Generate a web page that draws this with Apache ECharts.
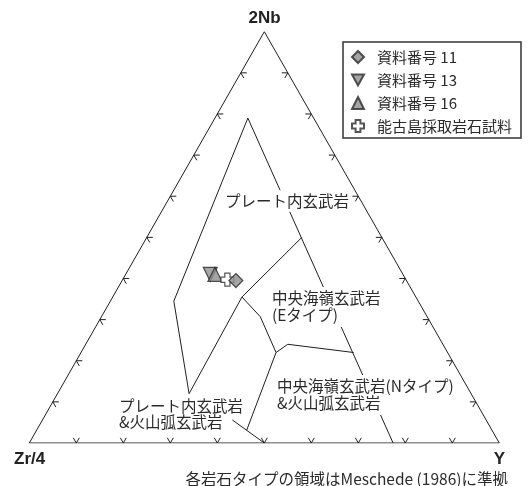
<!DOCTYPE html>
<html>
<head>
<meta charset="utf-8">
<script src="https://cdn.jsdelivr.net/npm/echarts@6/dist/echarts.min.js"></script>
<style>
html, body { margin: 0; padding: 0; background: #fff; }
#chart { width: 528px; height: 486px; }
</style>
</head>
<body>
<div id="chart"></div>
<script>
// all points are ternary values [Zr/4, 2Nb, Y] in %
var sample11 = [[36.3, 39.5, 24.2]];
var sample13 = [[41, 41, 18]];
var sample16 = [[40, 41, 19]];
var nokoSamples = [[38, 39.7, 22.3]];

var frameLine = [[100, 0, 0], [0, 100, 0], [0, 0, 100], [100, 0, 0]];
// field boundaries after Meschede (1986)
var fieldLines = [
    [[60, 12, 28], [52, 34.5, 13.5], [14, 79, 7]],
    [[14, 79, 7], [22.6, 0, 77.4]],
    [[17, 50, 33], [37, 35.5, 27.5], [60, 12, 28]],
    [[37, 35.5, 27.5], [35.5, 30.7, 33.8], [36.5, 22, 41.5], [33, 24, 43], [20, 22, 58]],
    [[36.5, 22, 41.5], [52.2, 3.1, 44.7]],
    [[54, 5.6, 40.4], [50, 0, 50]]
];
var tickValues = [10, 20, 30, 40, 50, 60, 70, 80, 90];

function toXY(t) {
    var s = t[0] + t[1] + t[2];
    return [(t[2] + t[1] / 2) / s * 100, t[1] / s * 100];
}

var tickData = [];
tickValues.forEach(function (v) {
    tickData.push(toXY([100 - v, 0, v]).concat(0));   // base
    tickData.push(toXY([100 - v, v, 0]).concat(1));   // left edge
    tickData.push(toXY([0, v, 100 - v]).concat(2));   // right edge
});
var armDirs = [
    [[-0.5, -0.866], [0.5, -0.866]],
    [[1, 0], [0.5, 0.866]],
    [[-1, 0], [-0.5, 0.866]]
];

var lineSeries = [frameLine].concat(fieldLines).map(function (pts) {
    return {
        type: 'line',
        data: pts.map(toXY),
        symbol: 'none',
        silent: true,
        z: 1,
        lineStyle: { color: '#1e1e1e', width: 1 }
    };
});

var markStyle = { color: '#8f8f8f', borderColor: '#2b2b2b', borderWidth: 1.2 };
var crossPath = 'path://M3,0 H7 V3 H10 V7 H7 V10 H3 V7 H0 V3 H3 Z';
var downTri = 'path://M0,0 L10,0 L5,9 Z';
var jpFont = '15.5px "Noto Sans CJK JP"';

var chart = echarts.init(document.getElementById('chart'));
chart.setOption({
    animation: false,
    grid: { left: 29.3, right: 28.7, top: 31.7, bottom: 43 },
    xAxis: { type: 'value', min: 0, max: 100, show: false },
    yAxis: { type: 'value', min: 0, max: 100, show: false },
    legend: {
        orient: 'vertical',
        left: 343,
        top: 42,
        padding: [7, 9, 4, 8],
        borderColor: '#333',
        borderWidth: 1.5,
        itemWidth: 12,
        itemHeight: 12,
        itemGap: 7,
        textStyle: { fontFamily: 'Noto Sans CJK JP', fontSize: 15, color: '#2a2a2a', lineHeight: 16, padding: [0, 0, 0, 8] },
        data: ['資料番号 11', '資料番号 13', '資料番号 16', '能古島採取岩石試料']
    },
    graphic: [
        { type: 'text', x: 264.5, y: 18, z: 100, style: { text: '2Nb', font: 'bold 17px "Liberation Sans"', fill: '#222', align: 'center', verticalAlign: 'middle' } },
        { type: 'text', x: 14, y: 459, z: 100, style: { text: 'Zr/4', font: 'bold 17px "Liberation Sans"', fill: '#222', align: 'left', verticalAlign: 'middle' } },
        { type: 'text', x: 499.5, y: 459, z: 100, style: { text: 'Y', font: 'bold 17px "Liberation Sans"', fill: '#222', align: 'center', verticalAlign: 'middle' } },
        { type: 'text', x: 508, y: 479, z: 100, style: { text: '各岩石タイプの領域はMeschede (1986)に準拠', font: jpFont, fill: '#2a2a2a', align: 'right', verticalAlign: 'middle' } },
        { type: 'text', x: 223, y: 201, z: 100, style: { text: 'プレート内玄武岩', font: jpFont, fill: '#2a2a2a', verticalAlign: 'middle', backgroundColor: '#fff', padding: [3, 2] } },
        { type: 'text', x: 270, y: 307, z: 100, style: { text: '中央海嶺玄武岩\n(Eタイプ)', font: jpFont, fill: '#2a2a2a', lineHeight: 17, verticalAlign: 'middle', backgroundColor: '#fff', padding: [3, 2] } },
        { type: 'text', x: 275, y: 395, z: 100, style: { text: '中央海嶺玄武岩(Nタイプ)\n&火山弧玄武岩', font: jpFont, fill: '#2a2a2a', lineHeight: 17, verticalAlign: 'middle', backgroundColor: '#fff', padding: [3, 2] } },
        { type: 'text', x: 119, y: 414, z: 100, style: { text: 'プレート内玄武岩\n&火山弧玄武岩', font: jpFont, fill: '#2a2a2a', lineHeight: 16, verticalAlign: 'middle' } }
    ],
    series: lineSeries.concat([
        {
            type: 'custom',
            silent: true,
            z: 1,
            data: tickData,
            renderItem: function (params, api) {
                var p = api.coord([api.value(0), api.value(1)]);
                var dirs = armDirs[api.value(2)];
                return {
                    type: 'group',
                    children: dirs.map(function (d) {
                        return {
                            type: 'line',
                            shape: { x1: p[0], y1: p[1], x2: p[0] + d[0] * 6, y2: p[1] + d[1] * 6 },
                            style: { stroke: '#1e1e1e', lineWidth: 1 }
                        };
                    })
                };
            }
        },
        { name: '資料番号 13', type: 'scatter', z: 3, symbol: downTri, symbolSize: 14, itemStyle: markStyle, data: sample13.map(toXY) },
        { name: '資料番号 16', type: 'scatter', z: 4, symbol: 'triangle', symbolSize: 14, itemStyle: markStyle, data: sample16.map(toXY) },
        { name: '能古島採取岩石試料', type: 'scatter', z: 5, symbol: crossPath, symbolSize: 13, itemStyle: { color: '#fff', borderColor: '#2b2b2b', borderWidth: 1.2 }, data: nokoSamples.map(toXY) },
        { name: '資料番号 11', type: 'scatter', z: 6, symbol: 'diamond', symbolSize: 14, itemStyle: markStyle, data: sample11.map(toXY) }
    ])
});
</script>
</body>
</html>
